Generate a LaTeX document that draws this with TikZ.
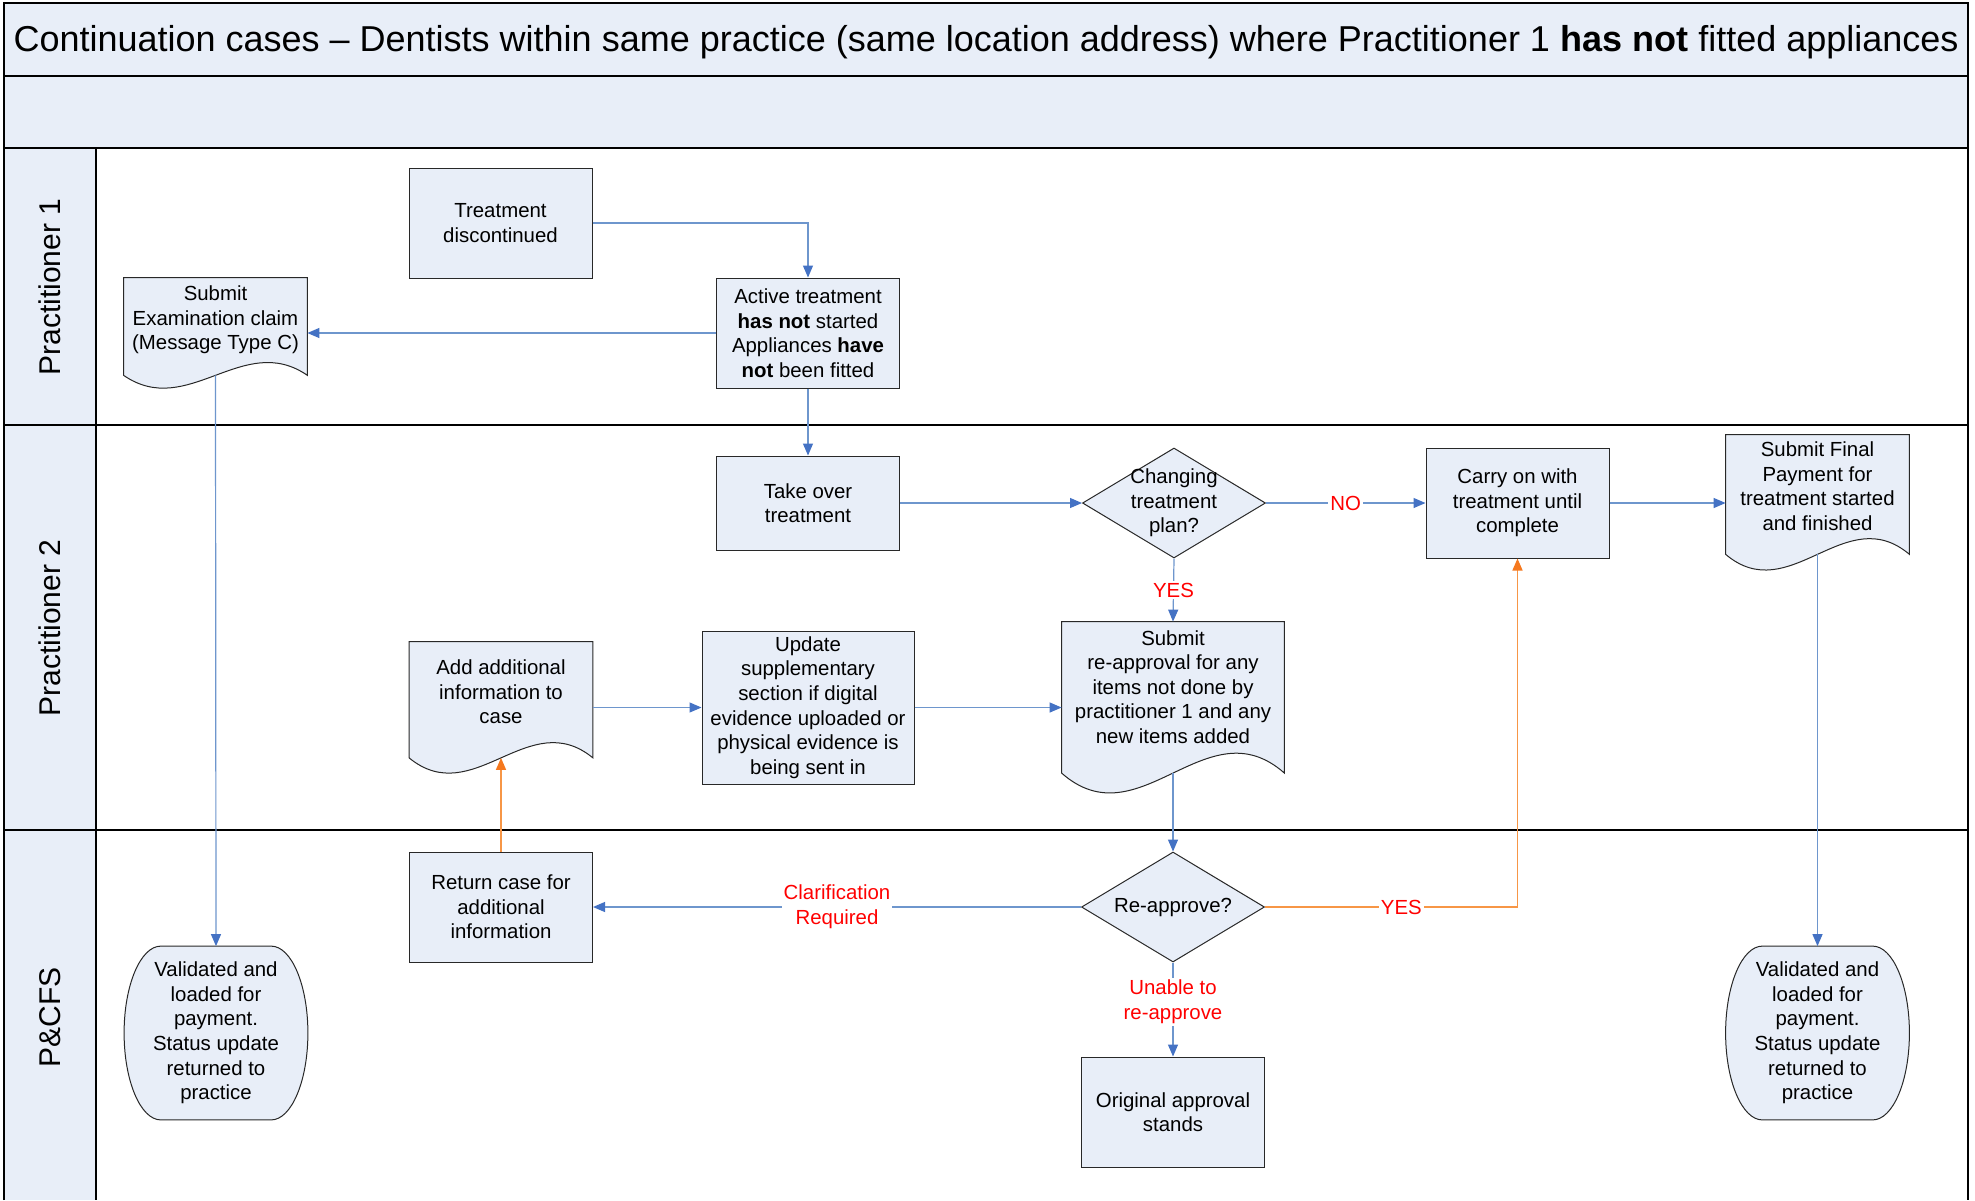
\documentclass[tikz,border=0pt]{standalone}
\usepackage{fontspec}
\setmainfont{Liberation Sans}
\usetikzlibrary{shapes.geometric,arrows.meta,calc,backgrounds}

\definecolor{boxfill}{RGB}{232,238,248}
\definecolor{boxline}{RGB}{40,40,40}
\definecolor{flowblue}{RGB}{110,150,205}
\definecolor{tipblue}{RGB}{68,114,196}
\definecolor{floworange}{RGB}{247,150,70}
\definecolor{tiporange}{RGB}{245,120,30}
\definecolor{answerred}{RGB}{255,0,0}

\tikzset{
  basetext/.style={font=\fontsize{10.2}{12.3}\selectfont, align=center},
  process/.style={basetext, rectangle, draw=boxline, fill=boxfill, line width=0.5pt,
    minimum width=91.5pt, minimum height=55pt, inner sep=1pt},
  document/.style={basetext, rectangle, minimum width=91.5pt, inner sep=1pt},
  terminal/.style={basetext, rectangle, minimum width=91.5pt, minimum height=86.5pt, inner sep=1pt},
  decision/.style={diamond, draw=boxline, fill=boxfill, line width=0.5pt,
    minimum width=91.5pt, minimum height=55pt, inner sep=0pt},
  flow/.style={draw=flowblue, line width=0.6pt, -{Triangle[length=6pt,width=5pt,color=tipblue]}},
  backflow/.style={draw=floworange, line width=0.7pt, -{Triangle[length=6pt,width=5pt,color=tiporange]}},
  answer/.style={basetext, text=answerred, fill=white, inner sep=1pt},
  lanename/.style={rotate=90, font=\fontsize{15}{18}\selectfont},
  laneline/.style={draw=black, line width=1pt}
}

% document outline with a wavy bottom edge, drawn round a node
\newcommand{\docoutline}[1]{%
  \draw[draw=boxline, fill=boxfill, line width=0.5pt]
    let \p1=(#1.south west), \p2=(#1.north east),
        \n1={0.158*(\y2-\y1)}, \n2={0.526*(\y2-\y1)} in
    ({0.5*(\x1+\x2)},{\y1-\n1}) coordinate (#1-wave)
    (\x1,\y2) -- (\x2,\y2) -- (\x2,{\y1-\n1})
    .. controls ({\x1+0.65*(\x2-\x1)},{\y1-\n1+\n2}) and ({\x1+0.35*(\x2-\x1)},{\y1-\n1-\n2}) .. (\x1,{\y1-\n1})
    -- cycle;
}
% terminal outline with bulging sides
\newcommand{\termoutline}[1]{%
  \draw[draw=boxline, fill=boxfill, line width=0.5pt]
    let \p1=(#1.south west), \p2=(#1.north east),
        \n1={0.2*(\x2-\x1)}, \n2={0.5*(\y2-\y1)} in
    ({\x1+\n1},\y2) -- ({\x2-\n1},\y2)
    arc[start angle=90, end angle=-90, x radius=\n1, y radius=\n2]
    -- ({\x1+\n1},\y1)
    arc[start angle=270, end angle=90, x radius=\n1, y radius=\n2] -- cycle;
}

\begin{document}
\begin{tikzpicture}[x=0.5pt,y=-0.5pt]
\useasboundingbox (0,0) rectangle (1975,1200);

% Frame and lanes
\fill[boxfill] (4,3) rectangle (1968,148);
\fill[boxfill] (4,148) rectangle (96,1200);
\draw[laneline] (4,1200) -- (4,3) -- (1968,3) -- (1968,1200);
\foreach \y in {76,148,425,830}
  \draw[laneline] (4,\y) -- (1968,\y);
\draw[laneline] (96,148) -- (96,1200);

\node[font=\fontsize{18}{21}\selectfont] (title) at (986,42)
  {Continuation cases \textendash{} Dentists within same practice (same location address) where Practitioner 1 \textbf{has not} fitted appliances};

\foreach \y/\lane/\name in {
    287/Practitioner 1/laneA,
    628/Practitioner 2/laneB,
    1017/P\&CFS/laneC
} {
    \node[lanename] (\name) at (50,\y) {\lane};
}

% Practitioner 1
\node[process] (treat) at (500.5,223) {Treatment\\discontinued};
\node[process] (active) at (808,333) {Active treatment\\\textbf{has not} started\\Appliances \textbf{have}\\\textbf{not} been fitted};
\node[document, minimum height=41.8pt] (exam) at (215.5,319.8) {Submit\\Examination claim\\(Message Type C)};

% Practitioner 2
\node[process, minimum height=47pt] (takeover) at (808,503) {Take over\\treatment};
\node[decision] (plan) at (1174,503) {};
\node[basetext] (plantext) at (plan) {Changing\\treatment\\plan?};
\node[process] (carry) at (1517.5,503) {Carry on with\\treatment until\\complete};
\node[document, minimum height=51.3pt] (final) at (1817.5,486.3) {Submit Final\\Payment for\\treatment started\\and finished};
\node[document, minimum height=49.8pt] (addinfo) at (501,691.8) {Add additional\\information to\\case};
\node[process, minimum width=106pt, minimum height=76.5pt] (update) at (808,707.5)
  {Update\\supplementary\\section if digital\\evidence uploaded or\\physical evidence is\\being sent in};
\node[document, minimum width=111pt, minimum height=65pt] (resubmit) at (1173,687)
  {Submit\\re-approval for any\\items not done by\\practitioner 1 and any\\new items added};

% P&CFS
\node[process] (ret) at (501,907) {Return case for\\additional\\information};
\node[decision] (reapprove) at (1173,907) {};
\node[basetext] (reapprovetext) at (reapprove) {Re-approve?};
\node[process] (orig) at (1173,1112) {Original approval\\stands};
\node[terminal] (paidA) at (216,1033) {Validated and\\loaded for\\payment.\\Status update\\returned to\\practice};
\node[terminal] (paidB) at (1817.5,1033) {Validated and\\loaded for\\payment.\\Status update\\returned to\\practice};

\begin{pgfonlayer}{background}
  \fill[white] (0,0) rectangle (1975,1200);
  \docoutline{exam}
  \docoutline{final}
  \docoutline{addinfo}
  \docoutline{resubmit}
  \termoutline{paidA}
  \termoutline{paidB}
\end{pgfonlayer}

% Connectors
\draw[flow] (treat.east) -| (active.north);
\draw[flow] (active.west) -- (active.west -| exam.east);
\draw[flow] (exam-wave) -- (paidA.north);
\draw[flow] (active.south) -- (takeover.north);
\draw[flow] (takeover.east) -- (plan.west);
\draw[flow] (plan.east) -- node[answer] (no) {NO} (carry.west);
\draw[flow] (carry.east) -- (carry.east -| final.west);
\draw[flow] (final-wave) -- (paidB.north);
\draw[flow] (plan.south) -- node[answer] (yes) {YES} (resubmit.north);
\draw[flow] (update.west -| addinfo.east) -- (update.west);
\draw[flow] (update.east) -- (update.east -| resubmit.west);
\draw[flow] (resubmit-wave) -- (reapprove.north);
\draw[flow] (reapprove.west) -- node[answer] (clarify) {Clarification\\Required} (ret.east);
\draw[flow] (reapprove.south) -- node[answer, pos=0.42] (unable) {Unable to\\re-approve} (orig.north);
\draw[backflow] (reapprove.east) -| node[answer, pos=0.27] (yesback) {YES} (carry.south);
\draw[backflow] (ret.north) -- (addinfo-wave);
\end{tikzpicture}
\end{document}
